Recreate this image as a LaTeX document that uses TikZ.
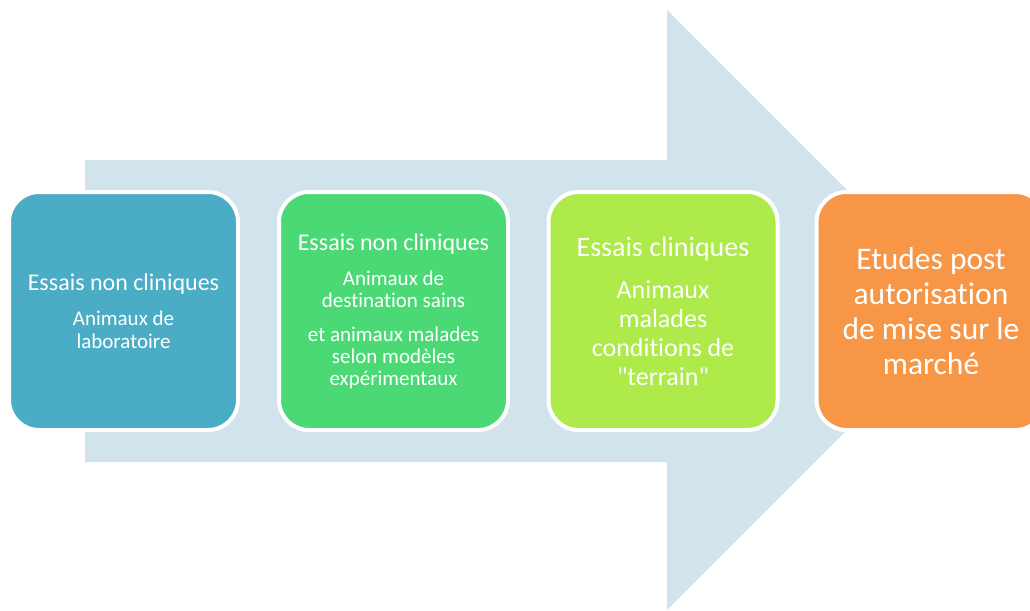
\documentclass[tikz,border=0pt]{standalone}
\usepackage{fontspec}
\setmainfont{Carlito}[Ligatures={NoCommon,TeXOff}]
\usetikzlibrary{positioning}

\definecolor{arrowbg}{HTML}{D1E3EB}
\definecolor{labblue}{HTML}{4BACC6}
\definecolor{destgreen}{HTML}{4BD975}
\definecolor{fieldlime}{HTML}{AEEA4A}
\definecolor{postorange}{HTML}{F79646}

\begin{document}
\begin{tikzpicture}[
  x=1pt, y=-1pt,
  stage/.style={rectangle, rounded corners=30pt, draw=white, line width=4pt,
    minimum width=229pt, minimum height=238pt, align=center, text=white,
    inner sep=2pt},
  title21/.style={font=\fontsize{21}{22}\selectfont}
]
\useasboundingbox (0,0) rectangle (1030,610);
\clip (0,0) rectangle (1030,610);

% Big arrow behind the stages
\fill[arrowbg] (85,160) -- (667,160) -- (667,10) -- (967,310)
  -- (667,610) -- (667,462) -- (85,462) -- cycle;

% Stages
\node[stage, fill=labblue, font=\fontsize{21}{23}\selectfont] (labo) at (123.5,311)
  {{\fontsize{24}{23}\selectfont Essais non cliniques}\\[12pt]
   Animaux de\\laboratoire};

\node[stage, fill=destgreen, title21] (dest) at (393.5,311)
  {{\fontsize{24}{22}\selectfont Essais non cliniques}\\[13pt]
   Animaux de\\destination sains\\[12pt]
   et animaux malades\\selon modèles\\expérimentaux};

\node[stage, fill=fieldlime, font=\fontsize{26}{29}\selectfont] (terrain) at (663,311)
  {{\fontsize{28}{29}\selectfont Essais cliniques}\\[13pt]
   Animaux\\malades\\conditions de\\\symbol{34}terrain\symbol{34}};

\node[stage, fill=postorange, font=\fontsize{31.5}{35}\selectfont] (amm) at (931,311)
  {Etudes post\\autorisation\\de mise sur le\\marché};

\end{tikzpicture}
\end{document}
